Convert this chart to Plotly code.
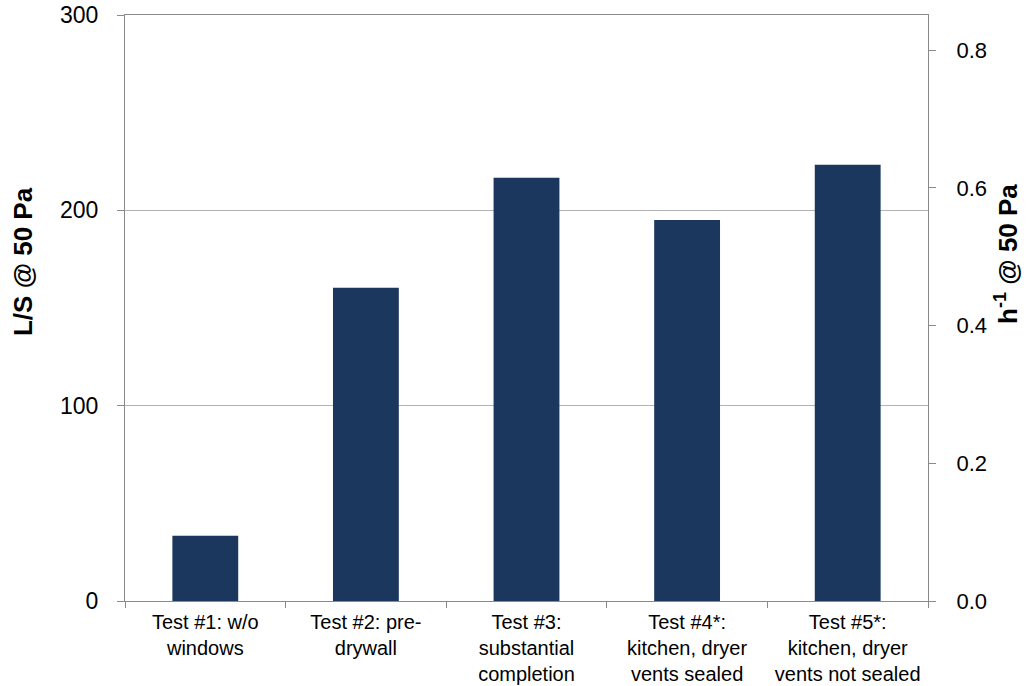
import plotly.graph_objects as go

categories = [
    "Test #1: w/o<br>windows",
    "Test #2: pre-<br>drywall",
    "Test #3:<br>substantial<br>completion",
    "Test #4*:<br>kitchen, dryer<br>vents sealed",
    "Test #5*:<br>kitchen, dryer<br>vents not sealed",
]
ls_values = [33.4, 160.4, 216.7, 195.0, 223.3]

left_ticks = [0, 100, 200, 300]
right_ticks = [0.0, 0.2, 0.4, 0.6, 0.8]
right_max = 0.851

left_title = "<b>L/S @ 50 Pa</b>"
right_title = "<b>h<sup>-1</sup> @ 50 Pa</b>"

bar_color = "#1b375e"
axis_color = "#8a8a8a"
grid_color = "#b4b4b4"
font_family = "Liberation Sans, Arial, sans-serif"

fig = go.Figure()
fig.add_trace(go.Bar(x=categories, y=ls_values, marker=dict(color=bar_color, line=dict(width=0)),
                     showlegend=False))
fig.add_trace(go.Scatter(x=categories, y=[None] * len(categories), yaxis="y2",
                         showlegend=False, hoverinfo="skip", mode="markers"))

fig.update_layout(
    width=1033, height=686,
    margin=dict(l=125, r=105, t=15, b=85),
    paper_bgcolor="white", plot_bgcolor="white",
    bargap=0.59,
    font=dict(family=font_family, color="black"),
    xaxis=dict(
        showline=True, linecolor=axis_color, linewidth=1, mirror=True,
        ticks="outside", tickson="boundaries", ticklen=6, tickcolor=axis_color,
        ticklabelstandoff=3,
        tickfont=dict(size=20), showgrid=False, automargin=False,
    ),
    yaxis=dict(
        range=[0, 300], tickvals=left_ticks,
        showline=True, linecolor=axis_color, linewidth=1,
        ticks="outside", ticklen=7, tickcolor=axis_color,
        ticklabelstandoff=14,
        showgrid=True, gridcolor=grid_color, gridwidth=1,
        zeroline=False, automargin=False,
        tickfont=dict(size=23),
    ),
    yaxis2=dict(
        overlaying="y", side="right", range=[0, right_max], tickvals=right_ticks,
        tickformat=".1f",
        showline=True, linecolor=axis_color, linewidth=1,
        ticks="outside", ticklen=7, tickcolor=axis_color,
        ticklabelstandoff=16,
        showgrid=False, zeroline=False, automargin=False,
        tickfont=dict(size=22),
    ),
    annotations=[
        dict(text=left_title, textangle=-90, xref="paper", yref="paper",
             x=-0.127, y=0.5785, xanchor="center", yanchor="middle",
             showarrow=False, font=dict(size=26)),
        dict(text=right_title, textangle=-90, xref="paper", yref="paper",
             x=1.097, y=0.592, xanchor="center", yanchor="middle",
             showarrow=False, font=dict(size=26)),
    ],
)

fig.write_html("out.html", config={"displayModeBar": False},
               post_script="document.body.style.margin='0';")
